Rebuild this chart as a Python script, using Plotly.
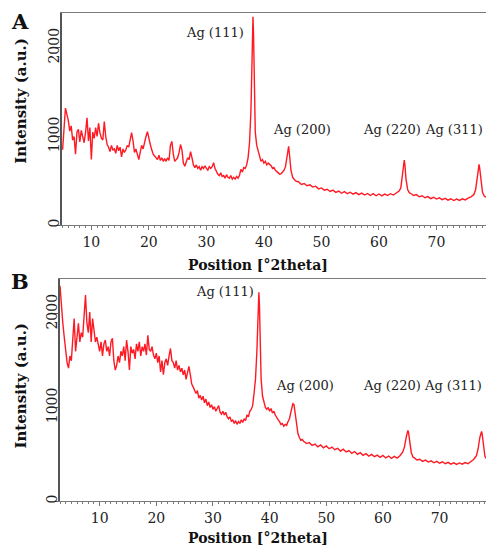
import numpy as np
import plotly.graph_objects as go

# ---------------- data ----------------
# Panel A, low-angle region 5.0 .. 36.75 deg, step 0.25
A_LOW_START, A_LOW_END, LOW_STEP = 5.0, 37.0, 0.25
A_LOW_Y = [
    850, 1150, 1320, 1250,   # 5
    1180, 1060, 1120, 960,   # 6
    1000, 800, 1050, 1080,   # 7
    940, 1070, 990, 930,     # 8
    1050, 1210, 950, 1100,   # 9
    740, 1050, 980, 1100,    # 10
    1000, 1150, 1040, 980,   # 11
    960, 1170, 1000, 910,    # 12
    880, 830, 900, 850,      # 13
    860, 810, 900, 840,      # 14
    880, 770, 860, 820,      # 15
    850, 900, 880, 960,      # 16
    1045, 950, 820, 860,     # 17
    790, 740, 820, 900,      # 18
    860, 945, 1000, 1055,    # 19
    960, 910, 850, 800,      # 20
    780, 760, 740, 790,      # 21
    730, 760, 720, 750,      # 22
    720, 760, 730, 900,      # 23
    945, 800, 720, 740,      # 24
    760, 820, 910, 850,      # 25
    700, 665, 720, 760,      # 26
    740, 830, 760, 680,      # 27
    650, 680, 640, 660,      # 28
    620, 660, 640, 670,      # 29
    640, 620, 660, 640,      # 30
    660, 705, 640, 600,      # 31
    575, 560, 590, 550,      # 32
    560, 530, 570, 540,      # 33
    530, 560, 520, 540,      # 34
    520, 550, 530, 560,      # 35
    630, 600, 650, 640,      # 36
]

# Panel B, low-angle region 3.0 .. 36.75 deg, step 0.25
B_LOW_START, B_LOW_END = 3.0, 37.0
B_LOW_Y = [
    2300, 2050, 1900, 1750,  # 3
    1600, 1480, 1420, 1550,  # 4
    1500, 1750, 1950, 1600,  # 5
    1800, 1900, 1700, 1800,  # 6
    1750, 2050, 2200, 1900,  # 7
    1800, 2020, 1700, 1950,  # 8
    1850, 1700, 1750, 1650,  # 9
    1600, 1700, 1550, 1680,  # 10
    1720, 1600, 1650, 1550,  # 11
    1700, 1740, 1500, 1400,  # 12
    1450, 1550, 1480, 1600,  # 13
    1550, 1650, 1500, 1720,  # 14
    1600, 1400, 1650, 1580,  # 15
    1620, 1520, 1680, 1600,  # 16
    1700, 1550, 1650, 1600,  # 17
    1680, 1560, 1770, 1620,  # 18
    1600, 1650, 1560, 1520,  # 19
    1580, 1480, 1550, 1380,  # 20
    1500, 1350, 1480, 1520,  # 21
    1450, 1550, 1630, 1500,  # 22
    1480, 1420, 1500, 1400,  # 23
    1450, 1380, 1420, 1350,  # 24
    1400, 1300, 1380, 1440,  # 25
    1350, 1250, 1220, 1180,  # 26
    1150, 1180, 1100, 1130,  # 27
    1080, 1120, 1050, 1090,  # 28
    1020, 1060, 1000, 1030,  # 29
    980, 1010, 960, 990,     # 30
    1020, 950, 930, 960,     # 31
    920, 950, 900, 880,      # 32
    900, 850, 870, 830,      # 33
    860, 820, 850, 830,      # 34
    870, 840, 880, 860,      # 35
    920, 900, 960, 980,      # 36
]

# High-angle sampling positions shared by both panels
HI_X = [
    37.0, 37.25, 37.5, 37.75, 37.9, 38.0, 38.1, 38.2, 38.3, 38.5,
    38.75, 39.0, 39.25, 39.5, 39.75, 40.0, 40.25, 40.5, 40.75, 41.0,
    41.25, 41.5, 41.75, 42.0, 42.25, 42.5, 42.75, 43.0, 43.25, 43.5,
    43.75, 43.9, 44.1, 44.3, 44.5, 44.7, 45.0, 45.25, 45.5, 45.75,
    46.0, 46.5, 47.0, 47.5, 48.0, 48.5, 49.0, 49.5, 50.0, 50.5,
    51.0, 51.5, 52.0, 52.5, 53.0, 53.5, 54.0, 54.5, 55.0, 55.5,
    56.0, 56.5, 57.0, 57.5, 58.0, 58.5, 59.0, 59.5, 60.0, 60.5,
    61.0, 61.5, 62.0, 62.5, 63.0, 63.5,
    63.8, 64.1, 64.3, 64.4, 64.5, 64.7, 65.0, 65.3,
    65.5, 66.0, 66.5, 67.0, 67.5, 68.0, 68.5, 69.0, 69.5, 70.0,
    70.5, 71.0, 71.5, 72.0, 72.5, 73.0, 73.5, 74.0, 74.5, 75.0,
    75.5, 76.0, 76.5,
    76.8, 77.1, 77.3, 77.4, 77.5, 77.7, 78.0, 78.3, 78.5, 79.0, 79.5, 80.0,
]

A_HI_Y = [
    680, 760, 930, 1300, 1800, 2200, 2350, 2150, 1600, 1050,
    900, 830, 780, 720, 740, 700, 720, 680, 700, 690,
    670, 640, 650, 620, 600, 590, 575, 580, 600, 620,
    660, 720, 820, 890, 760, 620, 540, 520, 500, 495,
    490, 460, 470, 445, 455, 430, 440, 410, 420, 395,
    405, 380, 395, 370, 385, 360, 378, 355, 372, 350,
    368, 345, 362, 340, 358, 335, 355, 332, 352, 330,
    350, 335, 355, 340, 365, 385,
    420, 560, 700, 735, 690, 520, 400, 365,
    360, 335, 345, 320, 332, 310, 322, 300, 315, 295,
    308, 288, 302, 282, 298, 278, 295, 280, 298, 285,
    305, 320, 345,
    400, 540, 660, 685, 650, 500, 370, 330, 320, 310, 315, 305,
]

B_HI_Y = [
    1020, 1150, 1300, 1600, 1950, 2150, 2230, 2100, 1750, 1300,
    1120, 1050, 1000, 980, 1000, 960, 990, 940, 960, 920,
    890, 870, 850, 820, 830, 800, 820, 810, 850, 880,
    950, 1000, 1040, 1030, 950, 820, 720, 680, 650, 660,
    640, 615, 625, 595, 610, 580, 600, 570, 590, 560,
    578, 550, 565, 535, 555, 525, 540, 510, 530, 500,
    518, 490, 508, 482, 500, 475, 492, 468, 488, 462,
    482, 458, 478, 460, 485, 525,
    580, 680, 745, 755, 740, 650, 520, 470,
    465, 440, 448, 425, 438, 418, 430, 410, 425, 405,
    420, 400, 415, 395, 410, 392, 408, 395, 412, 400,
    425, 445, 485,
    560, 680, 740, 745, 720, 600, 480, 450, 440, 440, 445, 440,
]

PEAK_LABELS = ["Ag (111)", "Ag (200)", "Ag (220)", "Ag (311)"]
# (x, y, anchor) positions of the peak labels in data units
A_LABEL_POS = [(36.9, 2170, "right"), (46.7, 1080, "center"),
               (62.2, 1080, "center"), (78.4, 1080, "right")]
B_LABEL_POS = [(37.6, 2234, "right"), (46.2, 1234, "center"),
               (61.6, 1234, "center"), (77.9, 1234, "right")]
X_TICKS = [10, 20, 30, 40, 50, 60, 70]
Y_TICKS = [0, 1000, 2000]
X_TITLE = "Position [°2theta]"
Y_TITLE = "Intensity (a.u.)"

# ---------------- build ----------------
a_x = list(np.arange(A_LOW_START, A_LOW_END, LOW_STEP)) + HI_X
a_y = A_LOW_Y + A_HI_Y
b_x = list(np.arange(B_LOW_START, B_LOW_END, LOW_STEP)) + HI_X
b_y = B_LOW_Y + B_HI_Y
assert len(a_x) == len(a_y), (len(a_x), len(a_y))
assert len(b_x) == len(b_y), (len(b_x), len(b_y))

# the page body has an 8px margin; size the figure so it fills the 494x552 window
OFF = 8
W, H = 486, 544
SERIF = "DejaVu Serif"
LINE = "rgb(255,25,35)"
AXC = "#7a7a7a"

fig = go.Figure()
fig.add_trace(go.Scatter(x=a_x, y=a_y, mode="lines",
                         line=dict(color=LINE, width=1.4), xaxis="x", yaxis="y"))
fig.add_trace(go.Scatter(x=b_x, y=b_y, mode="lines",
                         line=dict(color=LINE, width=1.4), xaxis="x2", yaxis="y2"))


def px(x):
    return (x - OFF) / W


def py(y):
    return 1 - (y - OFF) / H


def xaxis(domain, rng, anchor):
    return dict(domain=domain, range=rng, anchor=anchor, tickvals=X_TICKS,
                showgrid=False, zeroline=False, showline=True, linecolor=AXC,
                linewidth=1, mirror=True, ticks="outside", ticklen=4, tickcolor=AXC,
                minor=dict(dtick=1, ticks="outside", ticklen=2, tickcolor=AXC),
                tickfont=dict(family=SERIF, size=14, color="#222"))


def yaxis(domain, rng, anchor):
    return dict(domain=domain, range=rng, anchor=anchor, tickvals=Y_TICKS,
                showgrid=False, zeroline=False, showline=True, linecolor="#555",
                linewidth=1.5, ticks="outside", ticklen=4, tickcolor="#555",
                tickangle=-90, ticklabelstandoff=-8,
                tickfont=dict(family=SERIF, size=14, color="#222"))


fig.update_layout(
    width=W, height=H, margin=dict(l=0, r=0, t=0, b=0),
    paper_bgcolor="white", plot_bgcolor="white", showlegend=False,
    xaxis=xaxis([px(62), 1], [4.9, 80], "y"),
    yaxis=yaxis([py(226), py(13)], [0, 2393], "x"),
    xaxis2=xaxis([px(60), 1], [3.0, 79.6], "y2"),
    yaxis2=yaxis([py(503), py(280)], [0, 2372], "x2"),
)

ann = []
for (x, y, anc), t in zip(A_LABEL_POS, PEAK_LABELS):
    ann.append(dict(x=x, y=y, xref="x", yref="y", text=t, showarrow=False,
                    xanchor=anc, yanchor="middle",
                    font=dict(family=SERIF, size=13, color="#222")))
for (x, y, anc), t in zip(B_LABEL_POS, PEAK_LABELS):
    ann.append(dict(x=x, y=y, xref="x2", yref="y2", text=t, showarrow=False,
                    xanchor=anc, yanchor="middle",
                    font=dict(family=SERIF, size=13, color="#222")))
for ty in (266, 540):
    ann.append(dict(x=px(258), y=py(ty), xref="paper", yref="paper",
                    text="<b>" + X_TITLE + "</b>", showarrow=False,
                    xanchor="center", yanchor="middle",
                    font=dict(family=SERIF, size=14, color="#111")))
for ty in (101, 387):
    ann.append(dict(x=px(21), y=py(ty), xref="paper", yref="paper",
                    text="<b>" + Y_TITLE + "</b>", showarrow=False, textangle=-90,
                    xanchor="center", yanchor="middle",
                    font=dict(family=SERIF, size=15, color="#111")))
for lab, ty in (("A", 22), ("B", 283)):
    ann.append(dict(x=px(20), y=py(ty), xref="paper", yref="paper",
                    text="<b>" + lab + "</b>", showarrow=False,
                    xanchor="center", yanchor="middle",
                    font=dict(family=SERIF, size=21, color="#111")))
fig.update_layout(annotations=ann)

fig.write_html("out.html")
